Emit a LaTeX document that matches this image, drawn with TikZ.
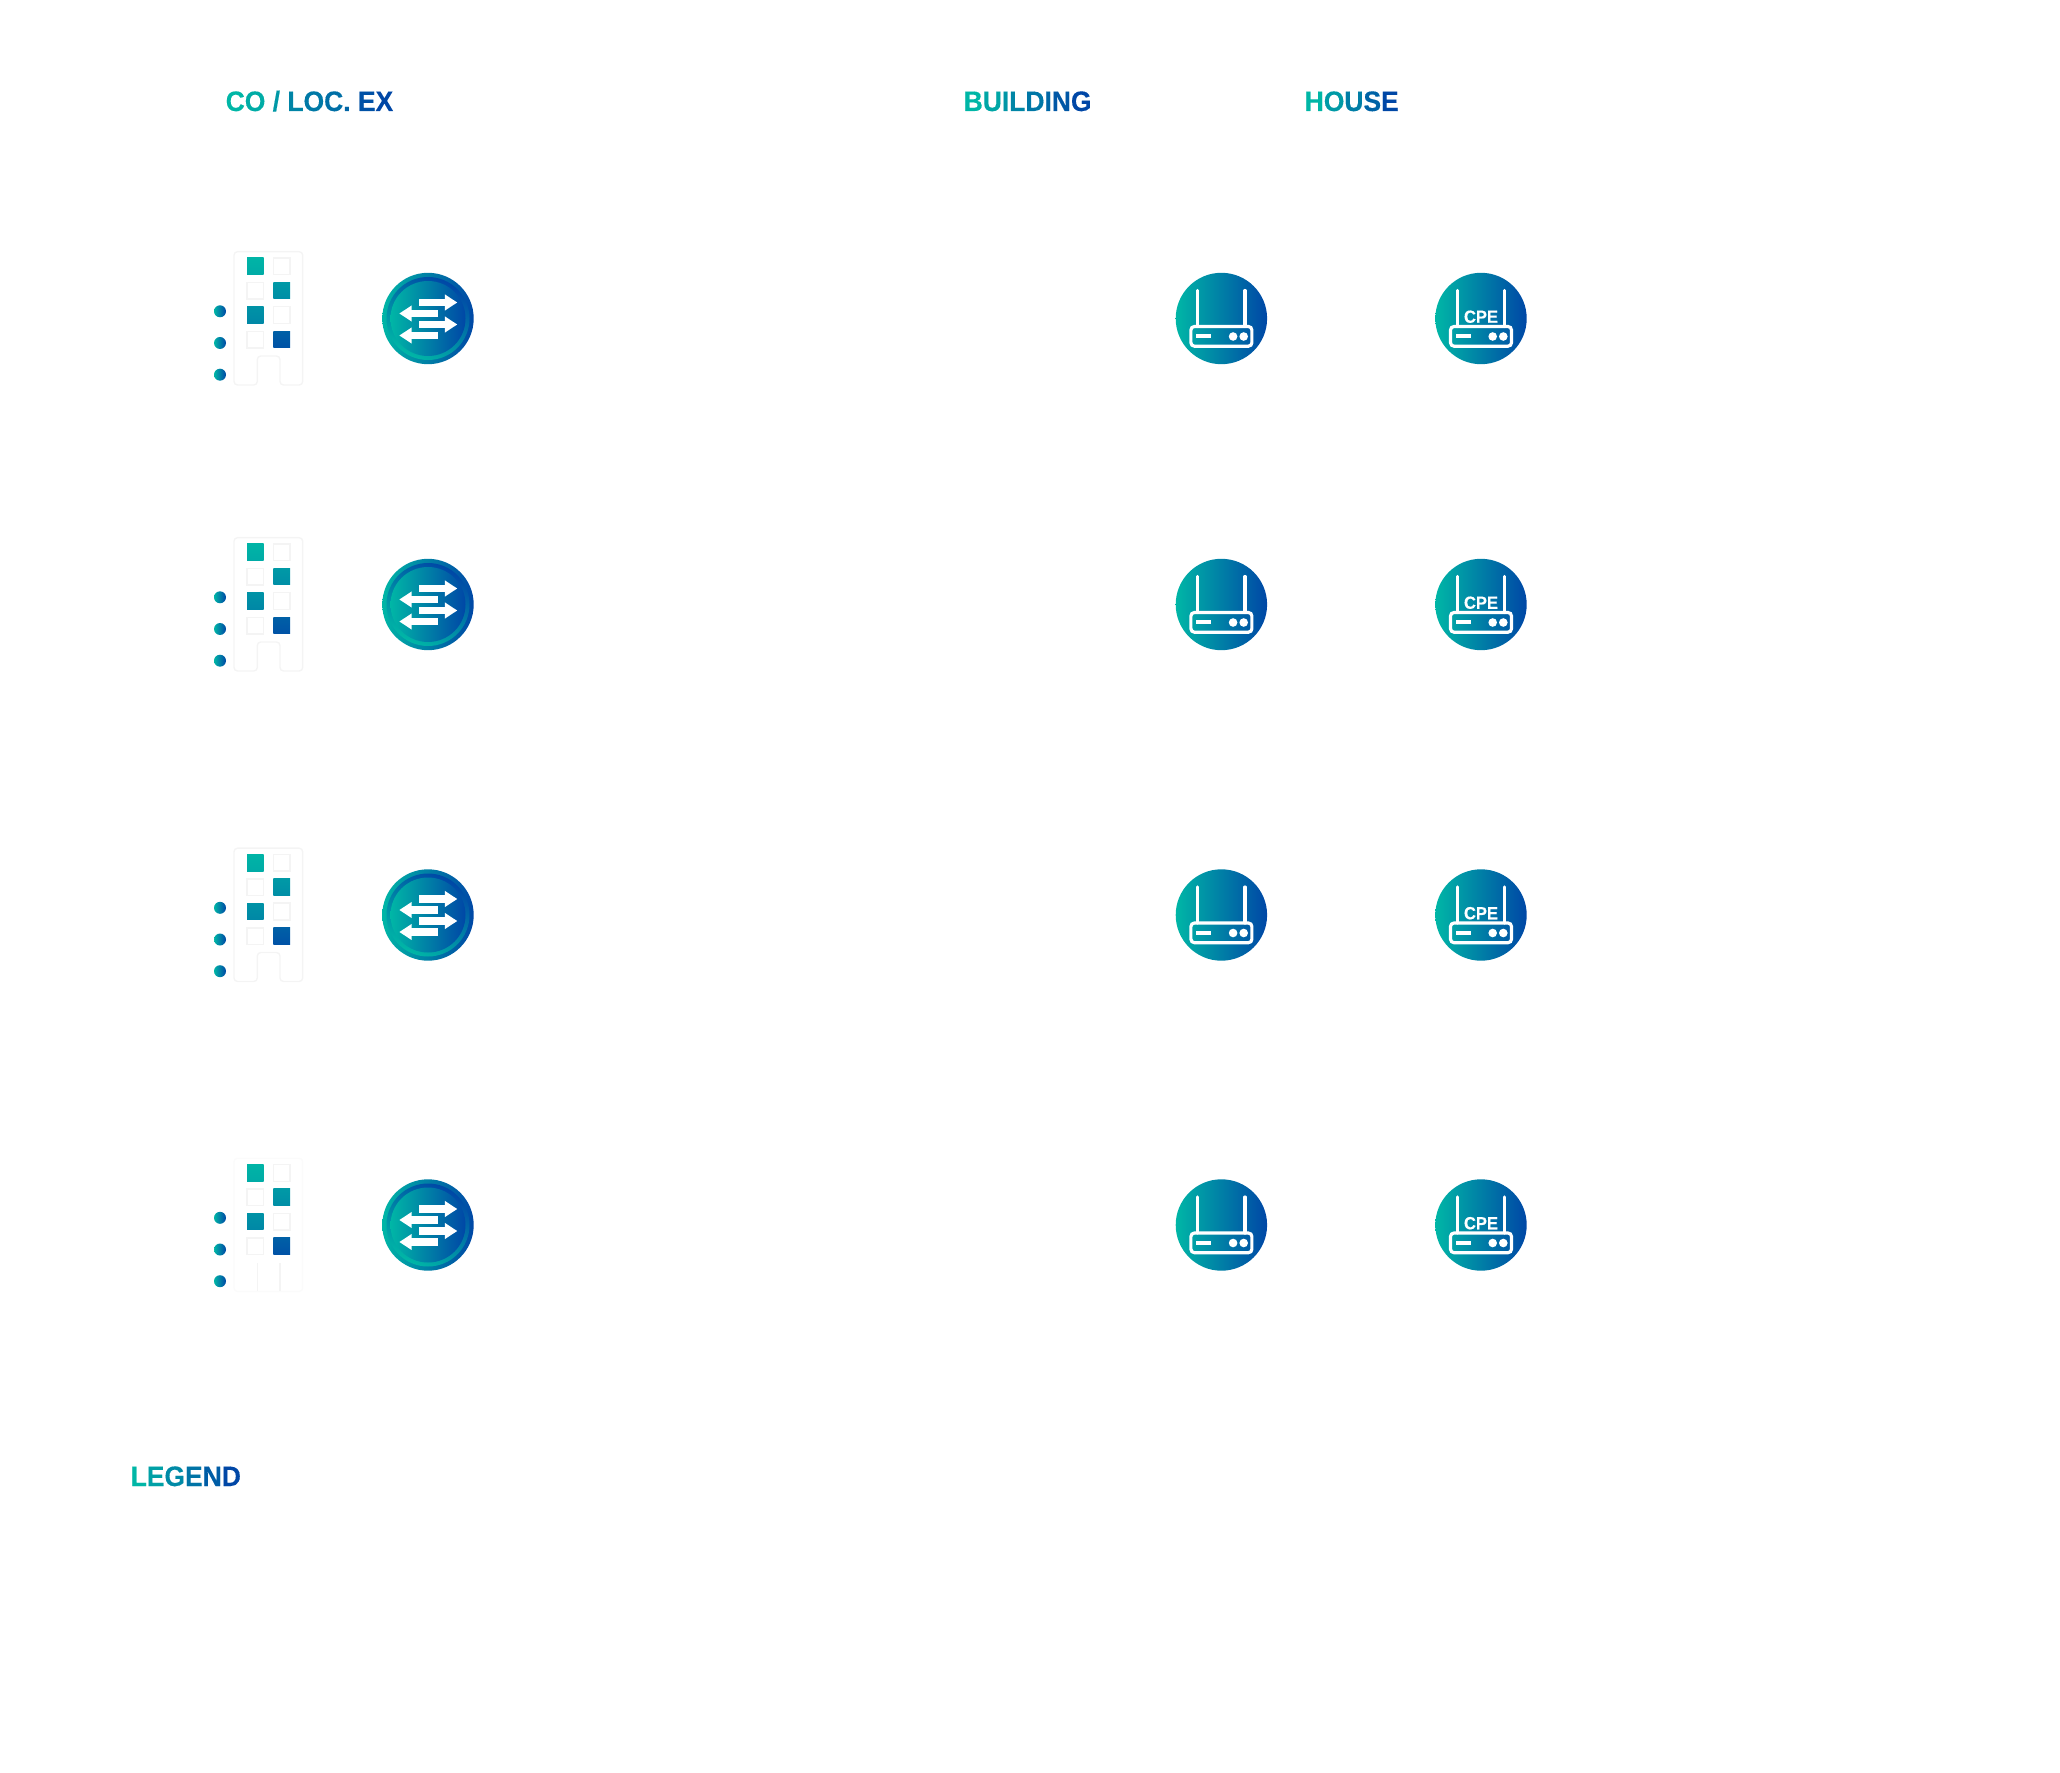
\documentclass[tikz,border=0pt]{standalone}
\usepackage{fontspec}
\usepackage{xstring}
\usetikzlibrary{arrows.meta}
\setmainfont[FakeStretch=0.94,BoldFeatures={FakeBold=0.35}]{Liberation Sans}

\definecolor{gradteal}{HTML}{00B6A6}
\definecolor{gradblue}{HTML}{0047A6}
\definecolor{bldggray}{HTML}{F4F4F4}
\definecolor{bldgfaint}{HTML}{FBFBFB}

% one colour per letter, from teal to blue
\def\gradblank{ }
\newcommand{\gradtext}[1]{%
	\StrLen{#1}[\gradlen]%
	\foreach \i in {1,...,\gradlen}{%
		\pgfmathsetmacro\gradp{100*(\i-1)/(\gradlen-1)}%
		\StrChar{#1}{\i}[\gradch]%
		\ifx\gradch\gradblank\ \else\ifx\gradch\empty\ \else
			\textcolor{gradblue!\gradp!gradteal}{\gradch}%
		\fi\fi
	}%
}

\tikzset{
	heading/.style={anchor=base west, inner sep=0pt, font=\fontsize{8}{9}\selectfont\bfseries},
	disc/.style={left color=gradteal, right color=gradblue},
	window/.style={draw=bldggray, line width=0.4pt},
	flow/.style={draw=white, line width=2.15pt, -{Triangle[width=4.3pt,length=3.5pt]}},
	radio/.style={draw=white, line width=0.9pt, line cap=round},
}

\begin{document}
\begin{tikzpicture}[x=0.01cm, y=-0.01cm]
	\useasboundingbox (0,0) rectangle (2060,1773);

	\node[heading] (headco) at (225,111) {\gradtext{CO / LOC. EX}};
	\node[heading] (headbuilding) at (963,111) {\gradtext{BUILDING}};
	\node[heading] (headhouse) at (1304,111) {\gradtext{HOUSE}};
	\node[heading] (headlegend) at (130,1486) {\gradtext{LEGEND}};

	\foreach \k/\y in {1/318.5, 2/604.5, 3/915, 4/1225} {
		% Office block and its three dots.
		\begin{scope}[shift={(0,\y-0.5)}]
			\ifnum\k<4
				\draw[bldggray, line width=0.4pt, rounded corners=1pt]
					(257.3,67) -- (234,67) -- (234,-66.3) -- (302.7,-66.3) --
					(302.7,67) -- (280,67) -- (280,38) -- (257.3,38) -- cycle;
			\else
				\draw[bldgfaint, line width=0.4pt, rounded corners=1pt]
					(234,67) rectangle (302.7,-66.3);
				\draw[bldggray, line width=0.4pt] (257.3,38) -- (257.3,66);
				\draw[bldggray, line width=0.4pt] (280,38) -- (280,66);
			\fi
			\draw[window] (273.3,-60) rectangle (290,-43.3);
			\draw[window] (247,-35.7) rectangle (263.7,-19);
			\draw[window] (273.3,-11.3) rectangle (290,5.3);
			\draw[window] (247,13.3) rectangle (263.7,30);
			\shade[top color=gradblue!2!gradteal, bottom color=gradblue!10!gradteal]
				(247,-60) rectangle (263.7,-43.3);
			\shade[top color=gradblue!26!gradteal, bottom color=gradblue!36!gradteal]
				(273.3,-35.7) rectangle (290,-19);
			\shade[top color=gradblue!32!gradteal, bottom color=gradblue!42!gradteal]
				(247,-11.3) rectangle (263.7,5.3);
			\shade[top color=gradblue!78!gradteal, bottom color=gradblue!90!gradteal]
				(273.3,13.3) rectangle (290,30);
			\foreach \d in {-6.7,25,56.7} {
				\shade[disc] (220,\d) circle (6);
			}
		\end{scope}

		% Switch: two rings under a disc, with the four arrows.
		\begin{scope}[shift={(428,\y)}]
			\shade[disc] (0,0) circle (45.7);
			\shade[bottom color=gradteal, top color=gradblue, shading angle=-30]
				(0,0) circle (41.5);
			\shade[disc] (0,0) circle (37.5);
			\coordinate (flowa) at (-9,-16);
			\coordinate (flowb) at (29.3,-16);
			\coordinate (flowc) at (9.6,-5);
			\coordinate (flowd) at (-28.7,-5);
			\coordinate (flowe) at (-9,6);
			\coordinate (flowf) at (29.3,6);
			\coordinate (flowg) at (9.6,17);
			\coordinate (flowh) at (-28.7,17);
			\draw[flow] (flowa) -- (flowb);
			\draw[flow] (flowc) -- (flowd);
			\draw[flow] (flowe) -- (flowf);
			\draw[flow] (flowg) -- (flowh);
		\end{scope}

		% Routers of the building and of the house.
		\foreach \x in {1221.4,1481} {
			\begin{scope}[shift={(\x,\y)}]
				\shade[disc] (0,0) circle (45.7);
				\draw[radio] (-23.6,8) -- (-23.6,-28);
				\draw[radio] (23.6,8) -- (23.6,-28);
				\draw[radio, fill=none, rounded corners=1pt] (-30.5,8) rectangle (30.5,27.7);
				\fill[white] (-25,16) rectangle (-10.3,19.6);
				\fill[white] (11.7,18) circle (4.3);
				\fill[white] (22.3,18) circle (4.3);
			\end{scope}
		}
		\node[inner sep=0pt, text=white, font=\fontsize{5}{5}\selectfont\bfseries]
			(cpe\k) at (1481,\y-1.8) {CPE};
	}
\end{tikzpicture}
\end{document}
